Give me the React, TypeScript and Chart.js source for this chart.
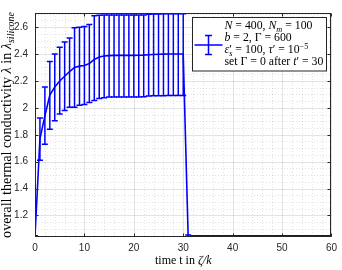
import React, { useEffect, useRef } from "react";
import { Chart, registerables } from "chart.js";

Chart.register(...registerables);

const times = [
  0, 1, 2, 3, 4, 5, 6, 7, 8, 9, 10, 11, 12, 13, 14, 15, 16, 17, 18, 19, 20,
  21, 22, 23, 24, 25, 26, 27, 28, 29, 30, 31, 32, 33, 34, 35, 36, 37, 38, 39,
  40, 41, 42, 43, 44, 45, 46, 47, 48, 49, 50, 51, 52, 53, 54, 55, 56, 57, 58,
  59, 60,
];

const meanValues = [
  1.045, 1.77, 1.94, 2.095, 2.155, 2.2, 2.235, 2.27, 2.3, 2.31, 2.315, 2.33,
  2.36, 2.378, 2.385, 2.388, 2.39, 2.39, 2.39, 2.39, 2.39, 2.391, 2.392, 2.395,
  2.397, 2.398, 2.399, 2.4, 2.4, 2.4, 2.4,
  1.046, 1.045, 1.045, 1.045, 1.045, 1.045, 1.045, 1.045, 1.045, 1.045, 1.045,
  1.045, 1.045, 1.045, 1.045, 1.045, 1.045, 1.045, 1.045, 1.045, 1.045, 1.045,
  1.045, 1.045, 1.045, 1.045, 1.045, 1.045, 1.045, 1.045,
];

const upperValues = [
  1.05, 1.925, 2.155, 2.345, 2.4, 2.45, 2.49, 2.52, 2.595, 2.6, 2.605, 2.62,
  2.685, 2.688, 2.69, 2.69, 2.69, 2.69, 2.69, 2.69, 2.69, 2.69, 2.69, 2.695,
  2.697, 2.698, 2.699, 2.7, 2.7, 2.7, 2.7,
  1.055, 1.049, 1.049, 1.049, 1.049, 1.049, 1.049, 1.049, 1.049, 1.049, 1.049,
  1.049, 1.049, 1.049, 1.049, 1.049, 1.049, 1.049, 1.049, 1.049, 1.049, 1.049,
  1.049, 1.049, 1.049, 1.049, 1.049, 1.049, 1.049, 1.049,
];

const lowerValues = [
  1.04, 1.61, 1.73, 1.84, 1.905, 1.955, 1.98, 2.005, 2.005, 2.02, 2.025, 2.04,
  2.055, 2.07, 2.075, 2.08, 2.08, 2.08, 2.08, 2.08, 2.08, 2.08, 2.082, 2.088,
  2.09, 2.09, 2.09, 2.092, 2.092, 2.092, 2.092,
  1.041, 1.041, 1.041, 1.041, 1.041, 1.041, 1.041, 1.041, 1.041, 1.041, 1.041,
  1.041, 1.041, 1.041, 1.041, 1.041, 1.041, 1.041, 1.041, 1.041, 1.041, 1.041,
  1.041, 1.041, 1.041, 1.041, 1.041, 1.041, 1.041, 1.041,
];

const xTicks = [0, 10, 20, 30, 40, 50, 60];
const yTicks = [1.2, 1.4, 1.6, 1.8, 2.0, 2.2, 2.4, 2.6];
const xMinorStep = 2;
const yMinorStep = 0.05;

const BLUE = "#0000ff";
const AXIS = "#262626";
const SERIF = '"Liberation Serif", "DejaVu Serif", serif';
const SANS = '"Liberation Sans", Arial, sans-serif';

type Run = { t: string; it?: boolean; sub?: boolean; sup?: boolean; keep?: boolean };

function runFont(r: Run, size: number) {
  const s = r.sub || r.sup ? size * 0.7 : size;
  return `${r.it ? "italic " : ""}${s}px ${SERIF}`;
}

function measureRuns(ctx: CanvasRenderingContext2D, runs: Run[], size: number) {
  let w = 0;
  for (const r of runs) {
    ctx.font = runFont(r, size);
    if (!r.keep) w += ctx.measureText(r.t).width;
  }
  return w;
}

function fitSize(ctx: CanvasRenderingContext2D, runs: Run[], target: number) {
  const w = measureRuns(ctx, runs, 12);
  return (12 * target) / w;
}

function drawRuns(
  ctx: CanvasRenderingContext2D,
  runs: Run[],
  x: number,
  y: number,
  size: number,
  align: "left" | "center"
) {
  let cx = align === "center" ? x - measureRuns(ctx, runs, size) / 2 : x;
  ctx.textAlign = "left";
  ctx.textBaseline = "alphabetic";
  for (const r of runs) {
    ctx.font = runFont(r, size);
    let dy = 0;
    if (r.sub) dy = size * 0.25;
    if (r.sup) dy = -size * 0.38;
    ctx.fillText(r.t, cx, y + dy);
    if (!r.keep) cx += ctx.measureText(r.t).width;
  }
}

const legendLines: Run[][] = [
  [{ t: "N", it: true }, { t: " = 400, " }, { t: "N", it: true }, { t: "m", it: true, sub: true }, { t: " = 100" }],
  [{ t: "b", it: true }, { t: " = 2, Γ = 600" }],
  [
    { t: "ε", it: true },
    { t: "′", keep: true },
    { t: "s", it: true, sub: true },
    { t: " = 100, " },
    { t: "τ", it: true },
    { t: "′ = 10" },
    { t: "−5", sup: true },
  ],
  [{ t: "set Γ = 0 after " }, { t: "t", it: true }, { t: "′ = 30" }],
];

const yTitle: Run[] = [
  { t: "overall thermal conductivity " },
  { t: "λ", it: true },
  { t: " in " },
  { t: "λ", it: true },
  { t: "silicone", it: true, sub: true },
];

const xTitle: Run[] = [{ t: "time t in " }, { t: "ζ/k", it: true }];

const decorPlugin = {
  id: "decor",
  beforeDatasetsDraw(chart: any) {
    const { ctx, chartArea: a, scales } = chart;
    const x = scales.x;
    const y = scales.y;
    ctx.save();
    // minor grid (dotted)
    ctx.strokeStyle = "rgba(38,38,38,0.2)";
    ctx.lineWidth = 0.7;
    ctx.setLineDash([1, 2]);
    for (let v = xMinorStep; v < 60; v += xMinorStep) {
      if (v % 10 === 0) continue;
      const px = Math.round(x.getPixelForValue(v)) + 0.5;
      ctx.beginPath();
      ctx.moveTo(px, a.top);
      ctx.lineTo(px, a.bottom);
      ctx.stroke();
    }
    for (let k = 21; k <= 54; k++) {
      if (k % 4 === 0) continue;
      const py = Math.round(y.getPixelForValue(k * yMinorStep)) + 0.5;
      ctx.beginPath();
      ctx.moveTo(a.left, py);
      ctx.lineTo(a.right, py);
      ctx.stroke();
    }
    // major grid
    ctx.setLineDash([]);
    ctx.strokeStyle = "rgba(38,38,38,0.13)";
    ctx.lineWidth = 1;
    for (const v of xTicks) {
      const px = Math.round(x.getPixelForValue(v)) + 0.5;
      ctx.beginPath();
      ctx.moveTo(px, a.top);
      ctx.lineTo(px, a.bottom);
      ctx.stroke();
    }
    for (const v of yTicks) {
      const py = Math.round(y.getPixelForValue(v)) + 0.5;
      ctx.beginPath();
      ctx.moveTo(a.left, py);
      ctx.lineTo(a.right, py);
      ctx.stroke();
    }
    ctx.restore();
  },
  afterDatasetsDraw(chart: any) {
    const { ctx, chartArea: a, scales } = chart;
    const x = scales.x;
    const y = scales.y;
    ctx.save();
    ctx.beginPath();
    ctx.rect(a.left, a.top, a.right - a.left, a.bottom - a.top);
    ctx.clip();
    ctx.strokeStyle = BLUE;
    ctx.lineWidth = 1.5;
    for (let i = 0; i < times.length; i++) {
      const px = x.getPixelForValue(times[i]);
      const pt = y.getPixelForValue(upperValues[i]);
      const pb = y.getPixelForValue(lowerValues[i]);
      ctx.beginPath();
      ctx.moveTo(px, pt);
      ctx.lineTo(px, pb);
      ctx.moveTo(px - 3, pt);
      ctx.lineTo(px + 3, pt);
      ctx.moveTo(px - 3, pb);
      ctx.lineTo(px + 3, pb);
      ctx.stroke();
    }
    ctx.restore();

    // axes box and inward ticks
    ctx.save();
    ctx.strokeStyle = AXIS;
    ctx.lineWidth = 1;
    const L = Math.round(a.left) + 0.5;
    const R = Math.round(a.right) - 0.5;
    const T = Math.round(a.top) + 0.5;
    const B = Math.round(a.bottom) - 0.5;
    ctx.strokeRect(L, T, R - L, B - T);
    ctx.beginPath();
    for (const v of xTicks) {
      const px = Math.round(x.getPixelForValue(v)) + 0.5;
      ctx.moveTo(px, B);
      ctx.lineTo(px, B - 3);
      ctx.moveTo(px, T);
      ctx.lineTo(px, T + 3);
    }
    for (const v of yTicks) {
      const py = Math.round(y.getPixelForValue(v)) + 0.5;
      ctx.moveTo(L, py);
      ctx.lineTo(L + 3, py);
      ctx.moveTo(R, py);
      ctx.lineTo(R - 3, py);
    }
    ctx.stroke();

    // legend
    const bw = 134;
    const bh = 53.5;
    const bx = Math.round(a.right - 5.5 - bw) + 0.5;
    const by = Math.round(a.top + 4) + 0.5;
    ctx.fillStyle = "#ffffff";
    ctx.fillRect(bx, by, bw, bh);
    ctx.strokeStyle = AXIS;
    ctx.lineWidth = 1;
    ctx.strokeRect(bx, by, bw, bh);
    const sy = by + 27.5;
    ctx.strokeStyle = BLUE;
    ctx.lineWidth = 1.5;
    ctx.beginPath();
    ctx.moveTo(bx + 2, sy);
    ctx.lineTo(bx + 30, sy);
    ctx.moveTo(bx + 16, sy - 9.5);
    ctx.lineTo(bx + 16, sy + 9.5);
    ctx.moveTo(bx + 12.5, sy - 9.5);
    ctx.lineTo(bx + 19.5, sy - 9.5);
    ctx.moveTo(bx + 12.5, sy + 9.5);
    ctx.lineTo(bx + 19.5, sy + 9.5);
    ctx.stroke();
    ctx.fillStyle = "#000000";
    const ls = Math.min(12, fitSize(ctx, legendLines[3], 99));
    legendLines.forEach((runs, i) => {
      drawRuns(ctx, runs, bx + 32, by + 11.5 + i * 12.1, ls, "left");
    });
    ctx.restore();
  },
  afterDraw(chart: any) {
    const { ctx, chartArea: a } = chart;
    ctx.save();
    ctx.fillStyle = "#000000";
    drawRuns(ctx, xTitle, (a.left + a.right) / 2, 264, 12, "center");
    const ts = fitSize(ctx, yTitle, 226);
    ctx.translate(10.5, (a.top + a.bottom) / 2);
    ctx.rotate(-Math.PI / 2);
    drawRuns(ctx, yTitle, 0, 0, ts, "center");
    ctx.restore();
  },
};

export default function App() {
  const ref = useRef<HTMLCanvasElement | null>(null);

  useEffect(() => {
    document.body.style.margin = "0";
    const canvas = ref.current;
    if (!canvas) return;
    const chart = new Chart(canvas, {
      type: "line",
      data: {
        datasets: [
          {
            data: times.map((t, i) => ({ x: t, y: meanValues[i] })),
            borderColor: BLUE,
            borderWidth: 1.6,
            pointRadius: 0,
            tension: 0,
            fill: false,
          },
        ],
      },
      options: {
        responsive: false,
        animation: false,
        devicePixelRatio: 1,
        layout: { padding: { left: 0, right: 6, top: 1, bottom: 0 } },
        plugins: { legend: { display: false }, tooltip: { enabled: false } },
        scales: {
          x: {
            type: "linear",
            min: 0,
            max: 60,
            grid: { display: false, drawTicks: false },
            border: { display: false },
            afterFit: (s: any) => {
              s.height = 33;
            },
            afterBuildTicks: (s: any) => {
              s.ticks = xTicks.map((v) => ({ value: v }));
            },
            ticks: {
              color: AXIS,
              font: { family: SANS, size: 10 },
              padding: 5,
              maxRotation: 0,
              autoSkip: false,
              callback: (v: any) => String(v),
            },
          },
          y: {
            type: "linear",
            min: 1.04,
            max: 2.705,
            grid: { display: false, drawTicks: false },
            border: { display: false },
            afterFit: (s: any) => {
              s.width = 35;
            },
            afterBuildTicks: (s: any) => {
              s.ticks = yTicks.map((v) => ({ value: v }));
            },
            ticks: {
              color: AXIS,
              font: { family: SANS, size: 10 },
              padding: 7,
              autoSkip: false,
              callback: (v: any) => String(Number(Number(v).toFixed(1))),
            },
          },
        },
      },
      plugins: [decorPlugin],
    } as any);
    return () => chart.destroy();
  }, []);

  return (
    <canvas
      ref={ref}
      width={342}
      height={270}
      style={{ display: "block", width: 342, height: 270 }}
    />
  );
}
